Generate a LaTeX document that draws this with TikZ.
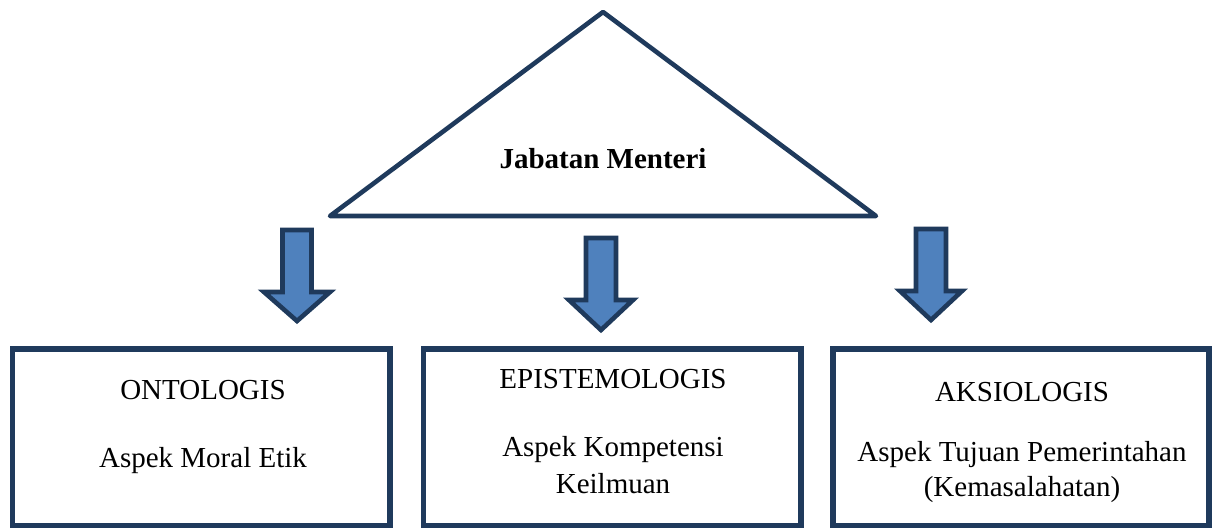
\documentclass[tikz,border=0pt]{standalone}
\usepackage{fontspec}
\setmainfont{Liberation Serif}
\usetikzlibrary{positioning}
\definecolor{garisbiru}{HTML}{1F3A5C}
\definecolor{isibiru}{HTML}{4F81BD}
\tikzset{kotak/.style={draw=garisbiru, line width=2.6pt},
  segitiga/.style={draw=garisbiru, line width=2.3pt, line join=round},
  panah/.style={draw=garisbiru, fill=isibiru, line width=2.3pt, line join=miter},
  teks/.style={font=\fontsize{14.5}{17.5}\selectfont, anchor=base, inner sep=0pt}}
% block arrow: centre x, top, half shaft, half head, head top, tip
\newcommand{\blokpanah}[6]{%
  \draw[panah] ({#1-#3},#2) -- ({#1+#3},#2) -- ({#1+#3},#5) -- ({#1+#4},#5)
    -- (#1,#6) -- ({#1-#4},#5) -- ({#1-#3},#5) -- cycle;}

\begin{document}
\begin{tikzpicture}[x=0.5pt, y=-0.5pt]
    \useasboundingbox (0,0) rectangle (1214,527);
    \clip (0,0) rectangle (1214,527);
    % top
    \coordinate (puncak) at (603,12);
    \coordinate (kiri) at (330,216);
    \coordinate (kanan) at (876,216);
    \draw[segitiga] (puncak) -- (kanan) -- (kiri) -- cycle;
    \node[teks, font=\fontsize{14.5}{17.5}\selectfont\bfseries] (jabatan) at (603,168) {Jabatan Menteri};
    % arrows
    \blokpanah{297}{230}{14.5}{33}{292}{321}
    \blokpanah{601}{238}{15}{32}{300}{330}
    \blokpanah{931}{229}{15}{31}{291}{320}
    % boxes
    \draw[kotak] (12.5,349) rectangle (390,526);
    \draw[kotak] (423.5,349) rectangle (801,526);
    \draw[kotak] (833,349) rectangle (1209,526);
    \node[teks] (onto) at (203,399) {ONTOLOGIS};
    \node[teks] (onto-isi) at (203,467) {Aspek Moral Etik};
    \node[teks] (episte) at (613,388) {EPISTEMOLOGIS};
    \node[teks] (episte-isi) at (613,456) {Aspek Kompetensi};
    \node[teks] (episte-isi2) at (613,493) {Keilmuan};
    \node[teks] (aksio) at (1022,401) {AKSIOLOGIS};
    \node[teks] (aksio-isi) at (1022,461) {Aspek Tujuan Pemerintahan};
    \node[teks] (aksio-isi2) at (1022,496) {(Kemasalahatan)};
\end{tikzpicture}
\end{document}
